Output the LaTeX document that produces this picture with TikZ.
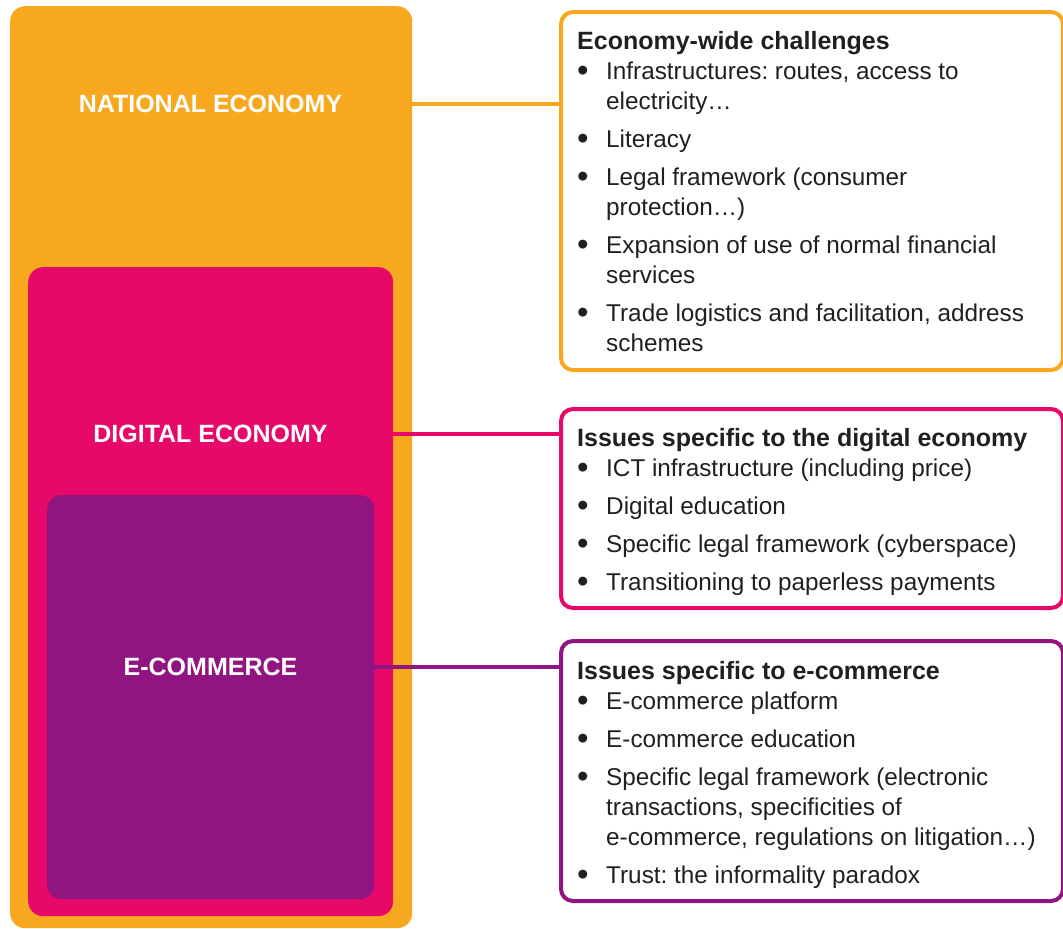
\documentclass[tikz,border=0pt]{standalone}
\usepackage{fontspec}
\setmainfont{Liberation Sans}
\definecolor{natorange}{HTML}{F8A81F}
\definecolor{digpink}{HTML}{E6096A}
\definecolor{ecompurple}{HTML}{901581}
\definecolor{bodytext}{HTML}{231F20}
\newcommand{\bulletmark}{\hbox to 29pt{\raisebox{-2.5pt}{\scalebox{1.35}{\textbullet}}\hfil}}
\newcommand{\firstitem}[1]{\par\hangindent=29pt\hangafter=1\noindent\bulletmark#1\par}
\newcommand{\bitem}[1]{\par\vskip8pt\hangindent=29pt\hangafter=1\noindent\bulletmark#1\par}
\newcommand{\boxtitle}[1]{{\fontsize{25}{30}\selectfont\bfseries #1\par}}
\begin{document}
\begin{tikzpicture}[x=1pt,y=-1pt,
  panel/.style={rectangle, rounded corners=15pt, inner sep=0pt, draw=none, anchor=north west},
  lbl/.style={inner sep=0pt, text=white, font=\fontsize{25}{30}\selectfont\bfseries},
  frame/.style={rectangle, draw, line width=4pt, rounded corners=12pt, fill=white, inner sep=0pt, anchor=north west, minimum width=502pt},
  conn/.style={line width=4pt},
  txt/.style={anchor=base west, inner sep=0pt, text=bodytext, font=\fontsize{24.3}{30}\selectfont}]
\useasboundingbox (0,0) rectangle (1063,929);
% nested panels
\node[panel, fill=natorange, minimum width=402pt, minimum height=922pt] (nat) at (10,6) {};
\node[panel, fill=digpink, minimum width=365pt, minimum height=649pt] (dig) at (28,267) {};
\node[panel, fill=ecompurple, minimum width=327pt, minimum height=404pt, rounded corners=14pt] (ecom) at (47,495) {};
\node[lbl] (natlbl) at (210.5,104) {NATIONAL ECONOMY};
\node[lbl] (diglbl) at (210.5,434) {DIGITAL ECONOMY};
\node[lbl] (ecomlbl) at (210.5,667) {E-COMMERCE};
% right frames
\node[frame, draw=natorange, minimum height=358pt] (natframe) at (559,10) {};
\node[frame, draw=digpink, minimum height=199pt] (digframe) at (559,407) {};
\node[frame, draw=ecompurple, minimum height=260pt] (ecomframe) at (559,639) {};
% connectors
\draw[conn, natorange] (nat.east |- natlbl) -- (natframe.west |- natlbl);
\draw[conn, digpink] (dig.east |- diglbl) -- (digframe.west |- diglbl);
\draw[conn, ecompurple] (ecom.east |- ecomlbl) -- (ecomframe.west |- ecomlbl);
% texts
\node[txt] (nattxt) at (577,49) {\vtop{\hsize=500pt\parindent=0pt\parskip=0pt\rightskip=0pt plus 1fil\frenchspacing
\boxtitle{Economy-wide challenges}
\firstitem{Infrastructures: routes, access to\\electricity…}
\bitem{Literacy}
\bitem{Legal framework (consumer\\protection…)}
\bitem{Expansion of use of normal financial\\services}
\bitem{Trade logistics and facilitation, address\\schemes}}};
\node[txt] (digtxt) at (577,446) {\vtop{\hsize=500pt\parindent=0pt\parskip=0pt\rightskip=0pt plus 1fil\frenchspacing
\boxtitle{Issues specific to the digital economy}
\firstitem{ICT infrastructure (including price)}
\bitem{Digital education}
\bitem{Specific legal framework (cyberspace)}
\bitem{Transitioning to paperless payments}}};
\node[txt] (ecomtxt) at (577,679) {\vtop{\hsize=500pt\parindent=0pt\parskip=0pt\rightskip=0pt plus 1fil\frenchspacing
\boxtitle{Issues specific to e-commerce}
\firstitem{E-commerce platform}
\bitem{E-commerce education}
\bitem{Specific legal framework (electronic\\transactions, specificities of\\e-commerce, regulations on litigation…)}
\bitem{Trust: the informality paradox}}};
\end{tikzpicture}
\end{document}
